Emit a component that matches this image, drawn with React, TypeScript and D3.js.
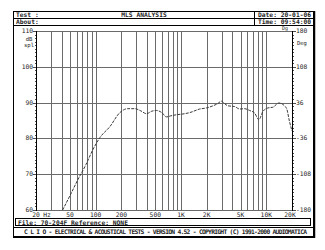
import React from "react";
import * as d3 from "d3";

const freqs = [41, 50, 62, 77, 93, 112, 147, 192, 238, 288, 338, 394, 455, 516, 596, 676, 759, 885, 1106, 1265, 1656, 1982, 2370, 2690, 2975, 3250, 3550, 4250, 4860, 5560, 6370, 7280, 8180, 9110, 10420, 11920, 14020, 16340, 17380, 18700, 20000];
const spl = [60, 64, 68.5, 72.7, 76.9, 80.2, 83.3, 87.2, 88.3, 88.3, 87.7, 86.9, 87.6, 87.8, 87.2, 86.0, 86.3, 86.6, 86.9, 87.2, 88.2, 88.5, 89.1, 89.7, 90.4, 89.7, 89.1, 88.9, 88.2, 88.3, 87.8, 87.1, 85.2, 87.5, 88.5, 88.7, 89.9, 89.1, 88.2, 84.7, 82.1];

const dbTicks = [110, 100, 90, 80, 70, 60];
const degTicks = ["180", "108", "36", "-36", "-108", "-180"];
const freqLabels = [
  { f: 50, t: "50" }, { f: 100, t: "100" }, { f: 200, t: "200" }, { f: 500, t: "500" },
  { f: 1000, t: "1K" }, { f: 2000, t: "2K" }, { f: 5000, t: "5K" }, { f: 10000, t: "10K" }, { f: 20000, t: "20K" },
];
const gridFreqs = [30, 40, 50, 60, 70, 80, 90, 100, 200, 300, 400, 500, 600, 700, 800, 900, 1000, 2000, 3000, 4000, 5000, 6000, 7000, 8000, 9000, 10000];

const FONT = "'DejaVu Sans Mono', 'Liberation Mono', monospace";

export default function App() {
  const x = d3.scaleLog().domain([20, 20000]).range([36, 292]);
  const y = d3.scaleLinear().domain([60, 110]).range([210, 31]);
  const line = d3.line<number>()
    .x((_, i) => x(freqs[i]))
    .y((d) => y(d))
    .curve(d3.curveMonotoneX);
  const minor = d3.range(60, 111, 1);
  const fs = 6.3;
  const txt = (props: any, s: string) => (
    <text fontFamily={FONT} fontSize={fs} fontWeight="bold" fill="#222" {...props}>{s}</text>
  );
  return (
    <svg width={325} height={250} style={{ position: "absolute", left: 0, top: 0, background: "#fff" }}>
      {/* outer frame */}
      <rect x={13.5} y={11.5} width={300} height={225} fill="none" stroke="#000" strokeWidth={1} />
      <line x1={13} x2={315} y1={237} y2={237} stroke="#000" strokeWidth={2} />
      <line x1={314.5} x2={314.5} y1={11} y2={238} stroke="#000" strokeWidth={1.5} />
      {/* header */}
      <line x1={13} x2={314} y1={18.5} y2={18.5} stroke="#000" />
      <line x1={13} x2={314} y1={25.5} y2={25.5} stroke="#000" />
      <line x1={254.5} x2={254.5} y1={11} y2={26} stroke="#000" />
      {txt({ x: 16, y: 17 }, "Test :")}
      {txt({ x: 144, y: 17, textAnchor: "middle" }, "MLS ANALYSIS")}
      {txt({ x: 16, y: 24 }, "About:")}
      {txt({ x: 258, y: 17 }, "Date:  20-01-06")}
      {txt({ x: 258, y: 24 }, "Time:  09:54:00")}

      {/* grid */}
      {gridFreqs.map((f) => (
        <line key={f} x1={Math.round(x(f)) + 0.5} x2={Math.round(x(f)) + 0.5} y1={31} y2={210} stroke="#6a6a6a" strokeWidth={1} />
      ))}
      {dbTicks.map((d) => (
        <line key={d} x1={36} x2={292} y1={Math.round(y(d)) + 0.5} y2={Math.round(y(d)) + 0.5} stroke="#6a6a6a" strokeWidth={1} />
      ))}
      {/* axes */}
      <line x1={36.5} x2={36.5} y1={31} y2={211} stroke="#000" />
      <line x1={292.5} x2={292.5} y1={31} y2={211} stroke="#000" />
      {minor.map((d) => (
        <g key={d}>
          <line x1={d % 10 === 0 ? 33 : 35} x2={36} y1={Math.round(y(d)) + 0.5} y2={Math.round(y(d)) + 0.5} stroke="#000" strokeWidth={0.7} />
          <line x1={293} x2={d % 10 === 0 ? 296 : 294} y1={Math.round(y(d)) + 0.5} y2={Math.round(y(d)) + 0.5} stroke="#000" strokeWidth={0.7} />
        </g>
      ))}
      {dbTicks.map((d) => txt({ key: "l" + d, x: 33, y: y(d) + 2, textAnchor: "end", fontWeight: "normal" }, String(d)))}
      {degTicks.map((t, i) => txt({ key: "r" + t, x: 296, y: y(dbTicks[i]) + 2, fontWeight: "normal" }, t))}
      {txt({ x: 29, y: 41, textAnchor: "middle", fontWeight: "normal", fontSize: 5.5 }, "dB")}
      {txt({ x: 29, y: 47, textAnchor: "middle", fontWeight: "normal", fontSize: 5.5 }, "spl")}
      {txt({ x: 297, y: 45, fontWeight: "normal", fontSize: 5.5 }, "Deg")}
      {txt({ x: 282, y: 30, fontWeight: "normal", fontSize: 5 }, "Dg")}
      {txt({ x: 36, y: 217, textAnchor: "middle", fontWeight: "normal" }, "20")}
      {txt({ x: 47, y: 217, textAnchor: "middle", fontWeight: "normal" }, "Hz")}
      {freqLabels.map((l) => txt({ key: l.t, x: l.f === 20000 ? x(l.f) - 2 : x(l.f), y: 217, textAnchor: "middle", fontWeight: "normal" }, l.t))}

      {/* curve */}
      <path d={line(spl) || ""} fill="none" stroke="#3a3a3a" strokeWidth={1} strokeDasharray="3,1.2" />

      {/* footer */}
      <rect x={15.5} y={218.5} width={295} height={7} fill="none" stroke="#000" strokeWidth={1} />
      {txt({ x: 18, y: 224.5 }, "File: 70-204F    Reference: NONE")}
      <line x1={13} x2={314} y1={227.5} y2={227.5} stroke="#000" />
      {txt({ x: 24, y: 234, textLength: 283, lengthAdjust: "spacing" }, "C L I O  -  ELECTRICAL & ACOUSTICAL TESTS  -  VERSION 4.52  -  COPYRIGHT (C) 1991-2000 AUDIOMATICA")}
    </svg>
  );
}
